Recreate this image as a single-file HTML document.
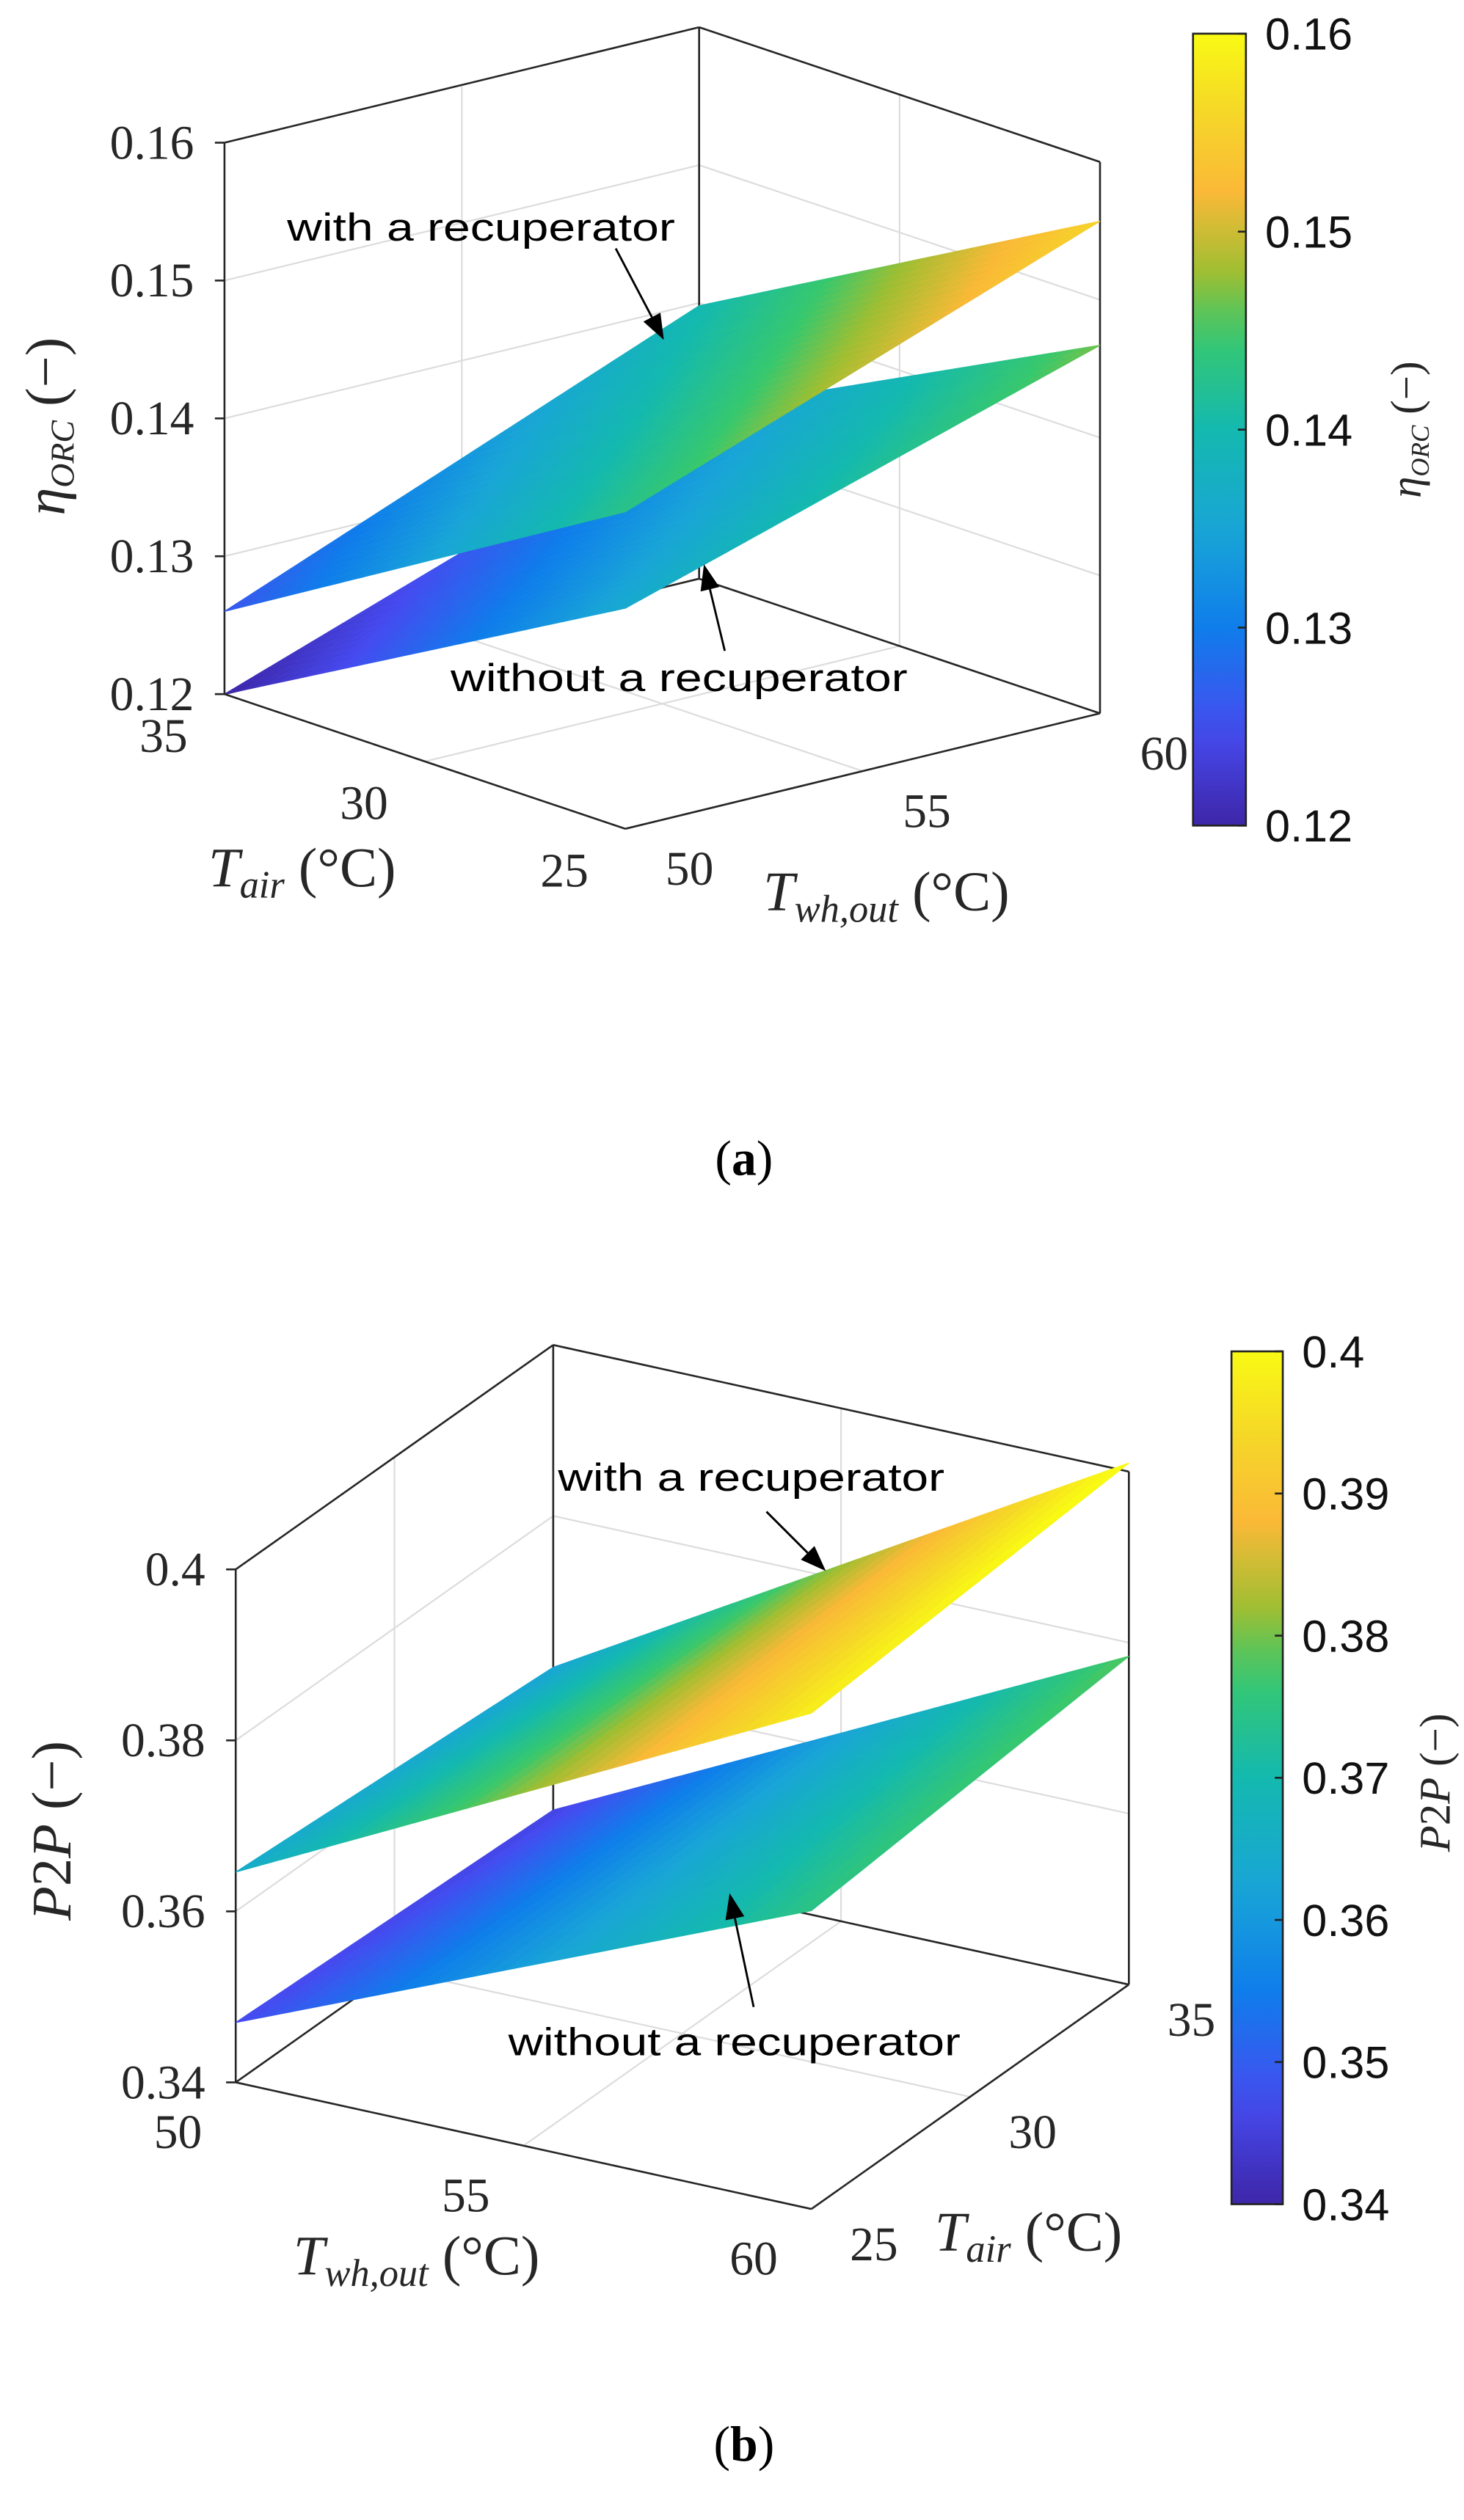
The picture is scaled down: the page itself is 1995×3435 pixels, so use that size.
<!DOCTYPE html>
<html><head><meta charset="utf-8"><title>ORC efficiency and P2P surfaces</title>
<style>
html,body{margin:0;padding:0;background:#fff;}
svg{display:block;}
.tk{font-family:"Liberation Serif",serif;font-size:30px;fill:#262626;}
.cb{font-family:"Liberation Sans",sans-serif;font-size:28px;fill:#111;}
.ann{font-family:"Liberation Sans",sans-serif;font-size:24px;fill:#000;}
.lab{font-family:"Liberation Serif",serif;font-size:35px;fill:#262626;}
</style></head>
<body>
<svg id="fig" width="1995" height="3435" viewBox="0 0 913 1572" preserveAspectRatio="none" xmlns="http://www.w3.org/2000/svg">
<defs>
<linearGradient id="parulaGrad" x1="0" y1="1" x2="0" y2="0"></linearGradient>
</defs>
<rect width="913" height="1572" fill="#fff"/>
<g id="panelA"></g>
<g id="panelB"></g>
<text x="464" y="733" text-anchor="middle" style="font-family:'Liberation Serif',serif;font-size:31px">(<tspan font-weight="bold">a</tspan>)</text>
<text x="464" y="1535" text-anchor="middle" style="font-family:'Liberation Serif',serif;font-size:31px">(<tspan font-weight="bold">b</tspan>)</text>
</svg>
<script>
// ---------- data ----------
const twhRange = [50, 60];
const tairRange = [25, 35];
// Panel (a): eta_ORC, values at Twh = [50, 60]
const aWithT25 = [0.143, 0.1557];
const aWithT35 = [0.126, 0.1398];
const aWithoutT25 = [0.136, 0.1467];
const aWithoutT35 = [0.120, 0.1322];
const aZTicks = [0.12, 0.13, 0.14, 0.15, 0.16];
const aZTickLabels = ["0.12", "0.13", "0.14", "0.15", "0.16"];
const aTairTicks = [25, 30, 35];
const aTwhTicks = [50, 55, 60];
const aCbTicks = [0.12, 0.13, 0.14, 0.15, 0.16];
const aCbLabels = ["0.12", "0.13", "0.14", "0.15", "0.16"];
// Panel (b): P2P
const bWithT25 = [0.3646, 0.398];
const bWithT35 = [0.3623, 0.401];
const bWithoutT25 = [0.347, 0.3749];
const bWithoutT35 = [0.3456, 0.3784];
const bZTicks = [0.34, 0.36, 0.38, 0.40];
const bZTickLabels = ["0.34", "0.36", "0.38", "0.4"];
const bTairTicks = [25, 30, 35];
const bTwhTicks = [50, 55, 60];
const bCbTicks = [0.34, 0.35, 0.36, 0.37, 0.38, 0.39, 0.40];
const bCbLabels = ["0.34", "0.35", "0.36", "0.37", "0.38", "0.39", "0.4"];

// ---------- colormap ----------
const stops = [[0,[62,38,168]],[0.12,[70,75,240]],[0.25,[15,125,235]],[0.37,[25,165,215]],[0.5,[20,185,175]],[0.62,[55,200,110]],[0.7,[160,190,50]],[0.8,[250,185,55]],[0.9,[245,215,40]],[1,[249,250,20]]];
function parula(t){
  t=Math.max(0,Math.min(1,t));
  for(let i=1;i<stops.length;i++){
    if(t<=stops[i][0]){
      const a=stops[i-1],b=stops[i],f=(t-a[0])/(b[0]-a[0]);
      const c=a[1].map((v,k)=>Math.round(v+(b[1][k]-v)*f));
      return 'rgb('+c.join(',')+')';
    }
  }
  return 'rgb(249,250,20)';
}
const NS='http://www.w3.org/2000/svg';
const grad=document.getElementById('parulaGrad');
for(let i=0;i<=20;i++){const s=document.createElementNS(NS,'stop');s.setAttribute('offset',i/20);s.setAttribute('stop-color',parula(i/20));grad.appendChild(s);}

function mk(parent,tag,attrs,text){
  const e=document.createElementNS(NS,tag);
  for(const k in attrs)e.setAttribute(k,attrs[k]);
  if(text!==undefined)e.textContent=text;
  parent.appendChild(e);return e;
}
function line(g,p,q,stroke,w,name){
  const e=mk(g,'line',{x1:p[0],y1:p[1],x2:q[0],y2:q[1],stroke:stroke,'stroke-width':w});
  
  
  return e;
}

// ---------- panel builder ----------
function buildPanel(g,cfg){
  const P=cfg.proj;
  const zmin=cfg.z[0],zmax=cfg.z[1];
  const GRID='#dcdcdc',AX='#262626';
  const w1=cfg.wall1, w2=cfg.wall2;
  cfg.zTicks.forEach(z=>{
    if(z>zmin && z<zmax){
      line(g,P(w1.a[0],w1.a[1],z),P(w1.b[0],w1.b[1],z),GRID,1,'z-gridline');
      line(g,P(w2.a[0],w2.a[1],z),P(w2.b[0],w2.b[1],z),GRID,1,'z-gridline');
    }
  });
  cfg.tairTicks.forEach(t=>{
    if(t>tairRange[0]&&t<tairRange[1]){
      line(g,P(t,cfg.twhWall,zmin),P(t,cfg.twhWall,zmax),GRID,1,'tair-gridline');
      line(g,P(t,50,zmin),P(t,60,zmin),GRID,1,'tair-floor-gridline');
    }
  });
  cfg.twhTicks.forEach(t=>{
    if(t>twhRange[0]&&t<twhRange[1]){
      line(g,P(cfg.tairWall,t,zmin),P(cfg.tairWall,t,zmax),GRID,1,'twh-gridline');
      line(g,P(25,t,zmin),P(35,t,zmin),GRID,1,'twh-floor-gridline');
    }
  });
  const bc=cfg.backCorner;
  line(g,P(bc[0],bc[1],zmin),P(bc[0],bc[1],zmax),AX,1.2,'back-vertical-edge');
  line(g,P(w1.a[0],w1.a[1],zmax),P(bc[0],bc[1],zmax),AX,1.2,'top-edge');
  line(g,P(bc[0],bc[1],zmax),P(w2.b[0],w2.b[1],zmax),AX,1.2,'top-edge');
  line(g,P(w1.a[0],w1.a[1],zmin),P(w1.a[0],w1.a[1],zmax),AX,1.2,'left-vertical-edge');
  line(g,P(w2.b[0],w2.b[1],zmin),P(w2.b[0],w2.b[1],zmax),AX,1.2,'right-vertical-edge');
  line(g,P(w1.a[0],w1.a[1],zmin),P(bc[0],bc[1],zmin),AX,1.2,'back-floor-edge');
  line(g,P(bc[0],bc[1],zmin),P(w2.b[0],w2.b[1],zmin),AX,1.2,'back-floor-edge');
  const N=32;
  cfg.surfaces.forEach(s=>{
    const sg=mk(g,'g',{});
    
    
    const zf=(u,v)=>{
      const z25=s.t25[0]+(s.t25[1]-s.t25[0])*v;
      const z35=s.t35[0]+(s.t35[1]-s.t35[0])*v;
      return z25+(z35-z25)*u;
    };
    for(let i=0;i<N;i++)for(let j=0;j<N;j++){
      const pts=[[i,j],[i+1,j],[i+1,j+1],[i,j+1]].map(([a,b])=>{
        const u=a/N,v=b/N;
        const p=P(25+10*u,50+10*v,zf(u,v));return p[0].toFixed(2)+','+p[1].toFixed(2);
      });
      const zc=zf((i+.5)/N,(j+.5)/N);
      const col=parula((zc-cfg.c[0])/(cfg.c[1]-cfg.c[0]));
      const q=mk(sg,'polygon',{points:pts.join(' '),fill:col,stroke:col,'stroke-width':0.6});
      
      
    }
  });
  const fa=cfg.frontAxes;
  fa.forEach(seg=>line(g,P(...seg[0]),P(...seg[1]),AX,1.2,'front-axis-line'));
  cfg.zTicks.forEach((z,k)=>{
    const p=P(w1.a[0],w1.a[1],z);
    line(g,p,[p[0]-6,p[1]],AX,1.2,'z-tick');
    const t=mk(g,'text',{x:p[0]-19,y:p[1]+10,'text-anchor':'end',class:'tk'},cfg.zLabels[k]);
    
    
  });
  cfg.tairTicks.forEach(tv=>{
    const p=P(tv,cfg.tairAxisTwh,zmin);
    const t=mk(g,'text',{x:p[0]+cfg.tairOff[0],y:p[1]+cfg.tairOff[1]+10,'text-anchor':'middle',class:'tk'},String(tv));
    
    
  });
  cfg.twhTicks.forEach(tv=>{
    const p=P(cfg.twhAxisTair,tv,zmin);
    const t=mk(g,'text',{x:p[0]+cfg.twhOff[0],y:p[1]+cfg.twhOff[1]+10,'text-anchor':'middle',class:'tk'},String(tv));
    
    
  });
  const cb=cfg.cb;
  const r=mk(g,'rect',{x:cb.x,y:cb.y0,width:cb.w,height:cb.y1-cb.y0,fill:'url(#parulaGrad)',stroke:'#222','stroke-width':1.2});
  
  
  cfg.cbTicks.forEach((v,k)=>{
    const y=cb.y1-(v-cfg.c[0])/(cfg.c[1]-cfg.c[0])*(cb.y1-cb.y0);
    line(g,[cb.x+cb.w-5,y],[cb.x+cb.w,y],'#222',1.2,'colorbar-tick');
    const t=mk(g,'text',{x:cb.x+cb.w+12,y:y+10,class:'cb'},cfg.cbLabels[k]);
    
    
  });
  cfg.arrows.forEach(a=>{
    const t=mk(g,'text',{x:a.tx,y:a.ty,class:'ann',textLength:a.tl,lengthAdjust:'spacingAndGlyphs'},a.text);
    
    
    const dx=a.to[0]-a.from[0],dy=a.to[1]-a.from[1],L=Math.hypot(dx,dy),ux=dx/L,uy=dy/L;
    const hl=16,hw=6;
    const bx=a.to[0]-ux*hl,by=a.to[1]-uy*hl;
    line(g,a.from,[bx,by],'#000',1.3,'annotation-arrow-line');
    const h=mk(g,'polygon',{points:`${a.to[0]},${a.to[1]} ${bx-uy*hw},${by+ux*hw} ${bx+uy*hw},${by-ux*hw}`,fill:'#000'});
    
    
  });
}

function projA(tair,twh,z){
  const a=(35-tair)/10,b=(twh-50)/10,c=(z-0.12)/0.04;
  return [140+250*a+296*b, 433+84*a-72*b-344*c];
}
buildPanel(document.getElementById('panelA'),{
  proj:projA,z:[0.12,0.16],c:[0.12,0.16],
  wall1:{a:[35,50],b:[35,60]},wall2:{a:[35,60],b:[25,60]},
  backCorner:[35,60],tairWall:35,twhWall:60,
  frontAxes:[[[35,50,0.12],[25,50,0.12]],[[25,50,0.12],[25,60,0.12]]],
  zTicks:aZTicks,zLabels:aZTickLabels,tairTicks:aTairTicks,twhTicks:aTwhTicks,
  tairAxisTwh:50,tairOff:[-38,26],twhAxisTair:25,twhOff:[40,25],
  cb:{x:744,w:33,y0:21,y1:515},cbTicks:aCbTicks,cbLabels:aCbLabels,
  surfaces:[
    {name:'surface-without-recuperator',t25:aWithoutT25,t35:aWithoutT35},
    {name:'surface-with-recuperator',t25:aWithT25,t35:aWithT35}],
  arrows:[
    {text:'with a recuperator',tx:179,ty:150,tl:242,from:[384,155],to:[414,212]},
    {text:'without a recuperator',tx:281,ty:431,tl:285,from:[452,406],to:[439,352]}]
});

function projB(tair,twh,z){
  const a=(tair-25)/10,b=(twh-50)/10,c=(z-0.34)/0.06;
  return [147+359*b+198*a, 1299+79*b-140*a-320*c];
}
buildPanel(document.getElementById('panelB'),{
  proj:projB,z:[0.34,0.40],c:[0.34,0.40],
  wall1:{a:[25,50],b:[35,50]},wall2:{a:[35,50],b:[35,60]},
  backCorner:[35,50],tairWall:35,twhWall:50,
  frontAxes:[[[25,50,0.34],[25,60,0.34]],[[25,60,0.34],[35,60,0.34]]],
  zTicks:bZTicks,zLabels:bZTickLabels,tairTicks:bTairTicks,twhTicks:bTwhTicks,
  tairAxisTwh:60,tairOff:[39,22],twhAxisTair:25,twhOff:[-36,31],
  cb:{x:768,w:32,y0:843,y1:1375},cbTicks:bCbTicks,cbLabels:bCbLabels,
  surfaces:[
    {name:'surface-without-recuperator',t25:bWithoutT25,t35:bWithoutT35},
    {name:'surface-with-recuperator',t25:bWithT25,t35:bWithT35}],
  arrows:[
    {text:'with a recuperator',tx:348,ty:930,tl:241,from:[478,943],to:[515,980]},
    {text:'without a recuperator',tx:317,ty:1282,tl:282,from:[470,1252],to:[455,1181]}]
});
</script>
<script>
const fig=document.getElementById('fig');
fig.insertAdjacentHTML('beforeend',`
<text class="lab" x="130" y="553"><tspan font-style="italic">T</tspan><tspan font-style="italic" font-size="24" dy="7">air</tspan><tspan dy="-7"> (°C)</tspan></text>
<text class="lab" x="476" y="568"><tspan font-style="italic">T</tspan><tspan font-style="italic" font-size="24" dy="7">wh,out</tspan><tspan dy="-7"> (°C)</tspan></text>
<text class="lab" transform="translate(40,266) rotate(-90)" text-anchor="middle"><tspan font-style="italic">η</tspan><tspan font-style="italic" font-size="21" dy="6">ORC</tspan><tspan dy="-6"> (−)</tspan></text>
<text class="lab" style="font-size:27px" transform="translate(886,268) rotate(-90)" text-anchor="middle"><tspan font-style="italic">η</tspan><tspan font-style="italic" font-size="16" dy="5">ORC</tspan><tspan dy="-5"> (−)</tspan></text>
<text class="lab" x="183" y="1419"><tspan font-style="italic">T</tspan><tspan font-style="italic" font-size="24" dy="7">wh,out</tspan><tspan dy="-7"> (°C)</tspan></text>
<text class="lab" x="583" y="1404"><tspan font-style="italic">T</tspan><tspan font-style="italic" font-size="24" dy="7">air</tspan><tspan dy="-7"> (°C)</tspan></text>
<text class="lab" transform="translate(44,1142) rotate(-90)" text-anchor="middle"><tspan font-style="italic">P</tspan>2<tspan font-style="italic">P</tspan> (−)</text>
<text class="lab" style="font-size:27px" transform="translate(904,1112) rotate(-90)" text-anchor="middle"><tspan font-style="italic">P</tspan>2<tspan font-style="italic">P</tspan> (−)</text>
`);
</script>
</body></html>
